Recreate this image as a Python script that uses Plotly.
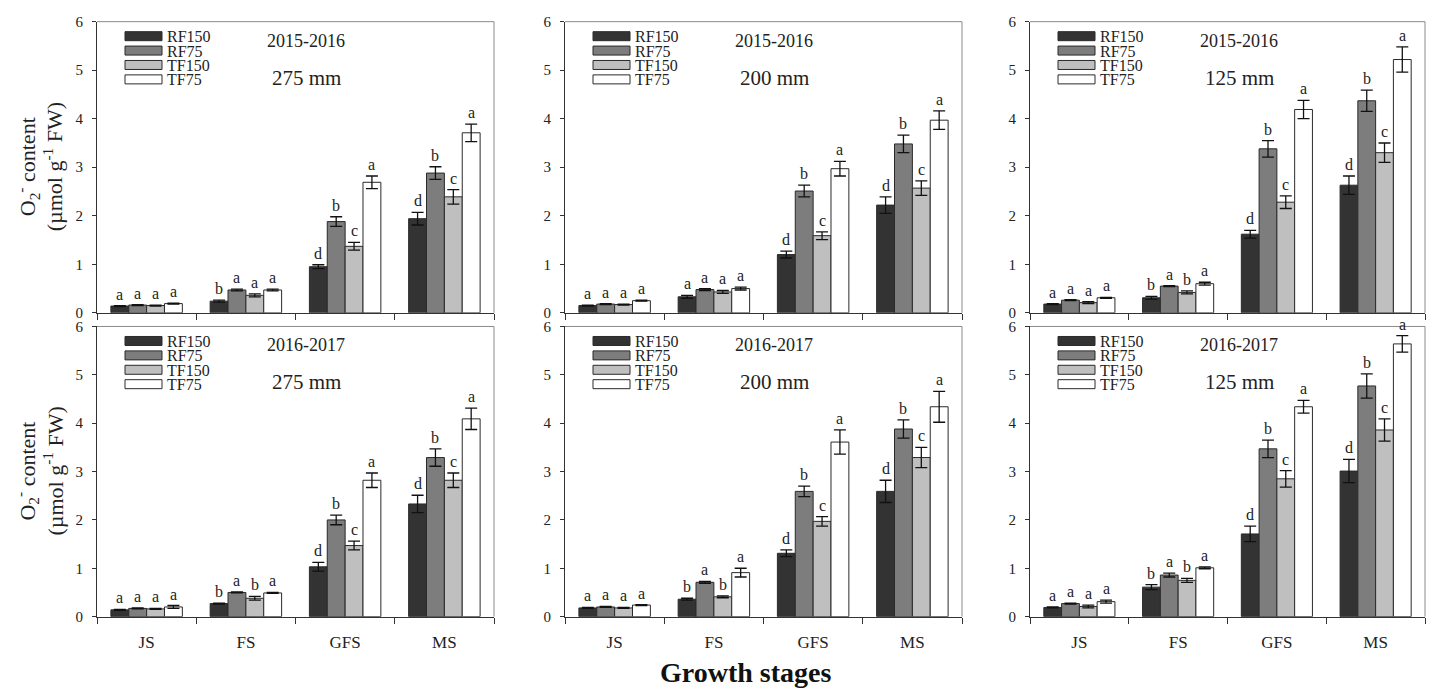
import plotly.graph_objects as go

# ---------------- data ----------------
categories = ["JS", "FS", "GFS", "MS"]
treatments = ["RF150", "RF75", "TF150", "TF75"]
bar_colors = ["#333333", "#7d7d7d", "#bfbfbf", "#ffffff"]

panel_years = ["2015-2016", "2015-2016", "2015-2016", "2016-2017", "2016-2017", "2016-2017"]
panel_rain = ["275 mm", "200 mm", "125 mm", "275 mm", "200 mm", "125 mm"]

# values[treatment][stage]
vals_1516_275 = [[0.14, 0.24, 0.95, 1.94], [0.16, 0.47, 1.88, 2.88], [0.15, 0.36, 1.37, 2.39], [0.19, 0.47, 2.69, 3.71]]
errs_1516_275 = [[0.01, 0.02, 0.04, 0.13], [0.01, 0.02, 0.10, 0.13], [0.01, 0.03, 0.08, 0.15], [0.01, 0.02, 0.13, 0.18]]
lets_1516_275 = [["a", "b", "d", "d"], ["a", "a", "b", "b"], ["a", "a", "c", "c"], ["a", "a", "a", "a"]]

vals_1516_200 = [[0.15, 0.33, 1.20, 2.22], [0.18, 0.48, 2.51, 3.48], [0.17, 0.43, 1.59, 2.57], [0.25, 0.50, 2.97, 3.97]]
errs_1516_200 = [[0.01, 0.03, 0.07, 0.17], [0.01, 0.02, 0.12, 0.18], [0.01, 0.03, 0.08, 0.15], [0.01, 0.03, 0.15, 0.19]]
lets_1516_200 = [["a", "a", "d", "d"], ["a", "a", "b", "b"], ["a", "a", "c", "c"], ["a", "a", "a", "a"]]

vals_1516_125 = [[0.18, 0.31, 1.62, 2.63], [0.26, 0.55, 3.38, 4.37], [0.21, 0.42, 2.28, 3.30], [0.31, 0.60, 4.19, 5.22]]
errs_1516_125 = [[0.01, 0.03, 0.08, 0.19], [0.01, 0.01, 0.17, 0.22], [0.02, 0.03, 0.13, 0.20], [0.01, 0.03, 0.19, 0.26]]
lets_1516_125 = [["a", "b", "d", "d"], ["a", "a", "b", "b"], ["a", "b", "c", "c"], ["a", "a", "a", "a"]]

vals_1617_275 = [[0.14, 0.27, 1.03, 2.33], [0.17, 0.50, 2.00, 3.29], [0.16, 0.38, 1.47, 2.82], [0.20, 0.49, 2.82, 4.09]]
errs_1617_275 = [[0.01, 0.01, 0.09, 0.18], [0.01, 0.01, 0.10, 0.18], [0.01, 0.04, 0.09, 0.15], [0.03, 0.01, 0.15, 0.22]]
lets_1617_275 = [["a", "b", "d", "d"], ["a", "a", "b", "b"], ["a", "b", "c", "c"], ["a", "a", "a", "a"]]

vals_1617_200 = [[0.18, 0.36, 1.31, 2.59], [0.20, 0.71, 2.59, 3.88], [0.18, 0.41, 1.97, 3.29], [0.24, 0.91, 3.61, 4.34]]
errs_1617_200 = [[0.01, 0.02, 0.07, 0.23], [0.01, 0.02, 0.11, 0.19], [0.01, 0.02, 0.10, 0.21], [0.01, 0.09, 0.25, 0.32]]
lets_1617_200 = [["a", "b", "d", "d"], ["a", "a", "b", "b"], ["a", "b", "c", "c"], ["a", "a", "a", "a"]]

vals_1617_125 = [[0.19, 0.61, 1.71, 3.01], [0.27, 0.86, 3.47, 4.77], [0.21, 0.75, 2.85, 3.86], [0.31, 1.01, 4.34, 5.64]]
errs_1617_125 = [[0.01, 0.05, 0.16, 0.24], [0.01, 0.04, 0.18, 0.25], [0.03, 0.04, 0.17, 0.23], [0.03, 0.02, 0.13, 0.17]]
lets_1617_125 = [["a", "b", "d", "d"], ["a", "a", "b", "b"], ["a", "b", "c", "c"], ["a", "a", "a", "a"]]

y_ticks = [0, 1, 2, 3, 4, 5, 6]

all_vals = [vals_1516_275, vals_1516_200, vals_1516_125, vals_1617_275, vals_1617_200, vals_1617_125]
all_errs = [errs_1516_275, errs_1516_200, errs_1516_125, errs_1617_275, errs_1617_200, errs_1617_125]
all_lets = [lets_1516_275, lets_1516_200, lets_1516_125, lets_1617_275, lets_1617_200, lets_1617_125]

# ---------------- layout geometry ----------------
W, H = 1431, 694
col_px = [(97, 494), (565, 962), (1030, 1425)]
row_px = [(14, 312), (326, 623)]
SERIF = "Liberation Serif, Times New Roman, serif"
BARGAP = 0.28

fig = go.Figure()
layout = dict(
    width=W, height=H, margin=dict(l=0, r=0, t=0, b=0),
    paper_bgcolor="white", plot_bgcolor="white",
    barmode="group", bargap=BARGAP, bargroupgap=0,
    showlegend=False, font=dict(family=SERIF, color="#222"),
)
annotations = []
shapes = []

bw = (1 - BARGAP) / len(treatments)

for p in range(6):
    r, c = divmod(p, 3)
    k = "" if p == 0 else str(p + 1)
    xa, ya = "x" + k, "y" + k
    x0, x1 = col_px[c]
    y0, y1 = row_px[r]
    layout["xaxis" + k] = dict(
        domain=[x0 / W, x1 / W], anchor=ya, type="category",
        categoryorder="array", categoryarray=categories, range=[-0.5, 3.5],
        showline=True, linecolor="#333", linewidth=1, mirror=False,
        ticks="outside", tickson="boundaries", ticklen=6, tickcolor="#333",
        showgrid=False, zeroline=False,
        showticklabels=(r == 1), tickfont=dict(family=SERIF, size=17, color="#222"),
        ticklabelstandoff=10,
    )
    layout["yaxis" + k] = dict(
        domain=[(H - y1) / H, (H - y0) / H], anchor=xa, range=[0, 6],
        tickvals=y_ticks, showline=True, linecolor="#333", linewidth=1,
        ticks="outside", ticklen=4, tickcolor="#333", showgrid=False, zeroline=False,
        tickfont=dict(family=SERIF, size=15, color="#222"), ticklabelstandoff=6,
    )
    # top & right frame lines (gray)
    shapes.append(dict(type="line", xref=xa + " domain", yref=ya + " domain",
                       x0=0, x1=1, y0=1, y1=1, line=dict(color="#8a8a8a", width=1)))
    shapes.append(dict(type="line", xref=xa + " domain", yref=ya + " domain",
                       x0=1, x1=1, y0=0, y1=1, line=dict(color="#8a8a8a", width=1)))

    vals, errs, lets = all_vals[p], all_errs[p], all_lets[p]
    for t, name in enumerate(treatments):
        fig.add_trace(go.Bar(
            x=categories, y=vals[t], name=name, xaxis=xa, yaxis=ya,
            marker=dict(color=bar_colors[t], line=dict(color="#2a2a2a", width=1)),
            error_y=dict(type="data", array=errs[t], visible=True,
                         color="#111", thickness=1.3, width=6),
            offsetgroup=str(t),
        ))
        for g in range(len(categories)):
            annotations.append(dict(
                x=g + (t - 1.5) * bw, y=vals[t][g] + errs[t][g], xref=xa, yref=ya,
                text=lets[t][g], showarrow=False, yanchor="bottom", xanchor="center",
                yshift=1, font=dict(family=SERIF, size=16, color="#222"),
            ))
        # legend swatch + label
        shapes.append(dict(type="rect", xref=xa + " domain", yref=ya + " domain",
                           xsizemode="pixel", ysizemode="pixel", xanchor=0, yanchor=1,
                           x0=28, x1=65, y0=-10 - 14.4 * t, y1=-19 - 14.4 * t,
                           fillcolor=bar_colors[t], line=dict(color="#2a2a2a", width=1)))
        annotations.append(dict(
            x=0, y=1, xref=xa + " domain", yref=ya + " domain",
            xanchor="left", yanchor="middle", xshift=68, yshift=-15 - 14.4 * t,
            text=name, showarrow=False, font=dict(family=SERIF, size=16, color="#222"),
        ))
    annotations.append(dict(
        x=0, y=1, xref=xa + " domain", yref=ya + " domain", xanchor="center", yanchor="middle",
        xshift=209, yshift=-19, text=panel_years[p], showarrow=False,
        font=dict(family=SERIF, size=18, color="#222"),
    ))
    annotations.append(dict(
        x=0, y=1, xref=xa + " domain", yref=ya + " domain", xanchor="center", yanchor="middle",
        xshift=209, yshift=-56, text=panel_rain[p], showarrow=False,
        font=dict(family=SERIF, size=21, color="#222"),
    ))

# y-axis titles
for r, (yt, yb) in enumerate(row_px):
    yc = (H - (yt + yb) / 2) / H
    annotations.append(dict(x=27 / W, y=yc, xref="paper", yref="paper", textangle=-90,
                            text="O<sub>2</sub><sup>-</sup> content", showarrow=False,
                            xanchor="center", yanchor="middle",
                            font=dict(family=SERIF, size=22, color="#222")))
    annotations.append(dict(x=53 / W, y=yc, xref="paper", yref="paper", textangle=-90,
                            text="(µmol g<sup>-1</sup> FW)", showarrow=False,
                            xanchor="center", yanchor="middle",
                            font=dict(family=SERIF, size=22, color="#222")))

annotations.append(dict(x=746 / W, y=(H - 680) / H, xref="paper", yref="paper",
                        text="<b>Growth stages</b>", showarrow=False,
                        xanchor="center", yanchor="middle",
                        font=dict(family=SERIF, size=28, color="#111")))

layout["annotations"] = annotations
layout["shapes"] = shapes
fig.update_layout(**layout)
fig.write_html("out.html")
